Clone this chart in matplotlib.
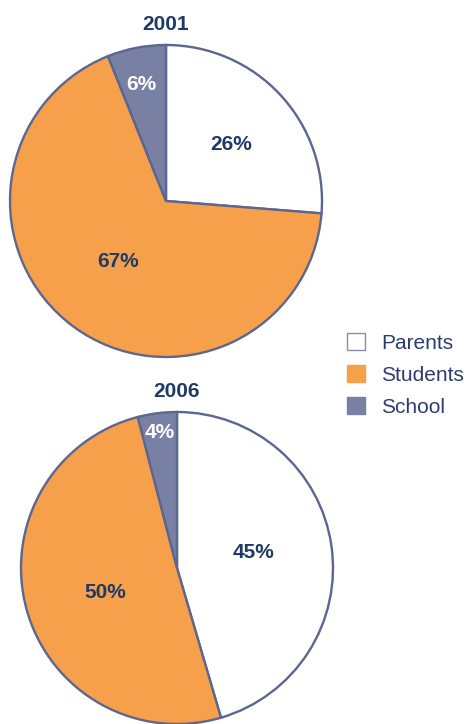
import matplotlib
matplotlib.use("Agg")
import matplotlib.pyplot as plt
from matplotlib.patches import Patch

plt.rcParams['font.family'] = ['Liberation Sans', 'DejaVu Sans']

# who pays, share in percent
groups = ['Parents', 'Students', 'School']
share_2001 = [26, 67, 6]
share_2006 = [45, 50, 4]
years = ['2001', '2006']

colors = ['#ffffff', '#f7a04b', '#7880a4']
edge = '#5c6690'
navy = '#1e3a66'
txt_colors = [navy, navy, '#ffffff']

W, H = 466, 724
fig = plt.figure(figsize=(W / 100, H / 100), dpi=100)


def pie_axes(cx, cy, r):
    # square axes in pixel units, pie radius 1
    ax = fig.add_axes([(cx - r) / W, (H - cy - r) / H, 2 * r / W, 2 * r / H])
    return ax


def draw(ax, vals, title, label_pos):
    wedges, _ = ax.pie(vals, colors=colors, startangle=90, counterclock=False,
                       radius=1.0, wedgeprops=dict(edgecolor=edge, linewidth=1.7))
    # pie() sets its own limits; put them back to the unit circle
    ax.set_xlim(-1, 1)
    ax.set_ylim(-1, 1)
    ax.set_aspect('auto')
    ax.axis('off')
    for w in wedges:
        w.set_clip_on(False)
    for v, (x, y), c in zip(vals, label_pos, txt_colors):
        ax.text(x, y, f'{v}%', ha='center', va='center', fontsize=15,
                fontweight='bold', color=c)
    ax.text(0, 1.13, title, ha='center', va='center', fontsize=15,
            fontweight='bold', color=navy)


ax1 = pie_axes(166, 201, 156)
draw(ax1, share_2001, years[0], [(0.42, 0.36), (-0.31, -0.39), (-0.16, 0.75)])

ax2 = pie_axes(177, 568, 156)
draw(ax2, share_2006, years[1], [(0.49, 0.10), (-0.46, -0.16), (-0.11, 0.87)])

handles = [Patch(facecolor=c, edgecolor='#8a8fa8' if c == '#ffffff' else c, linewidth=1)
           for c in colors]
fig.legend(handles, groups, loc='upper left', bbox_to_anchor=(347 / W, 1 - 333 / H),
           frameon=False, fontsize=15, handlelength=0.85, handleheight=0.85,
           handletextpad=0.8, labelspacing=0.6, borderpad=0, borderaxespad=0,
           labelcolor='#2d3c6e')

fig.savefig('out.png', dpi=100)
